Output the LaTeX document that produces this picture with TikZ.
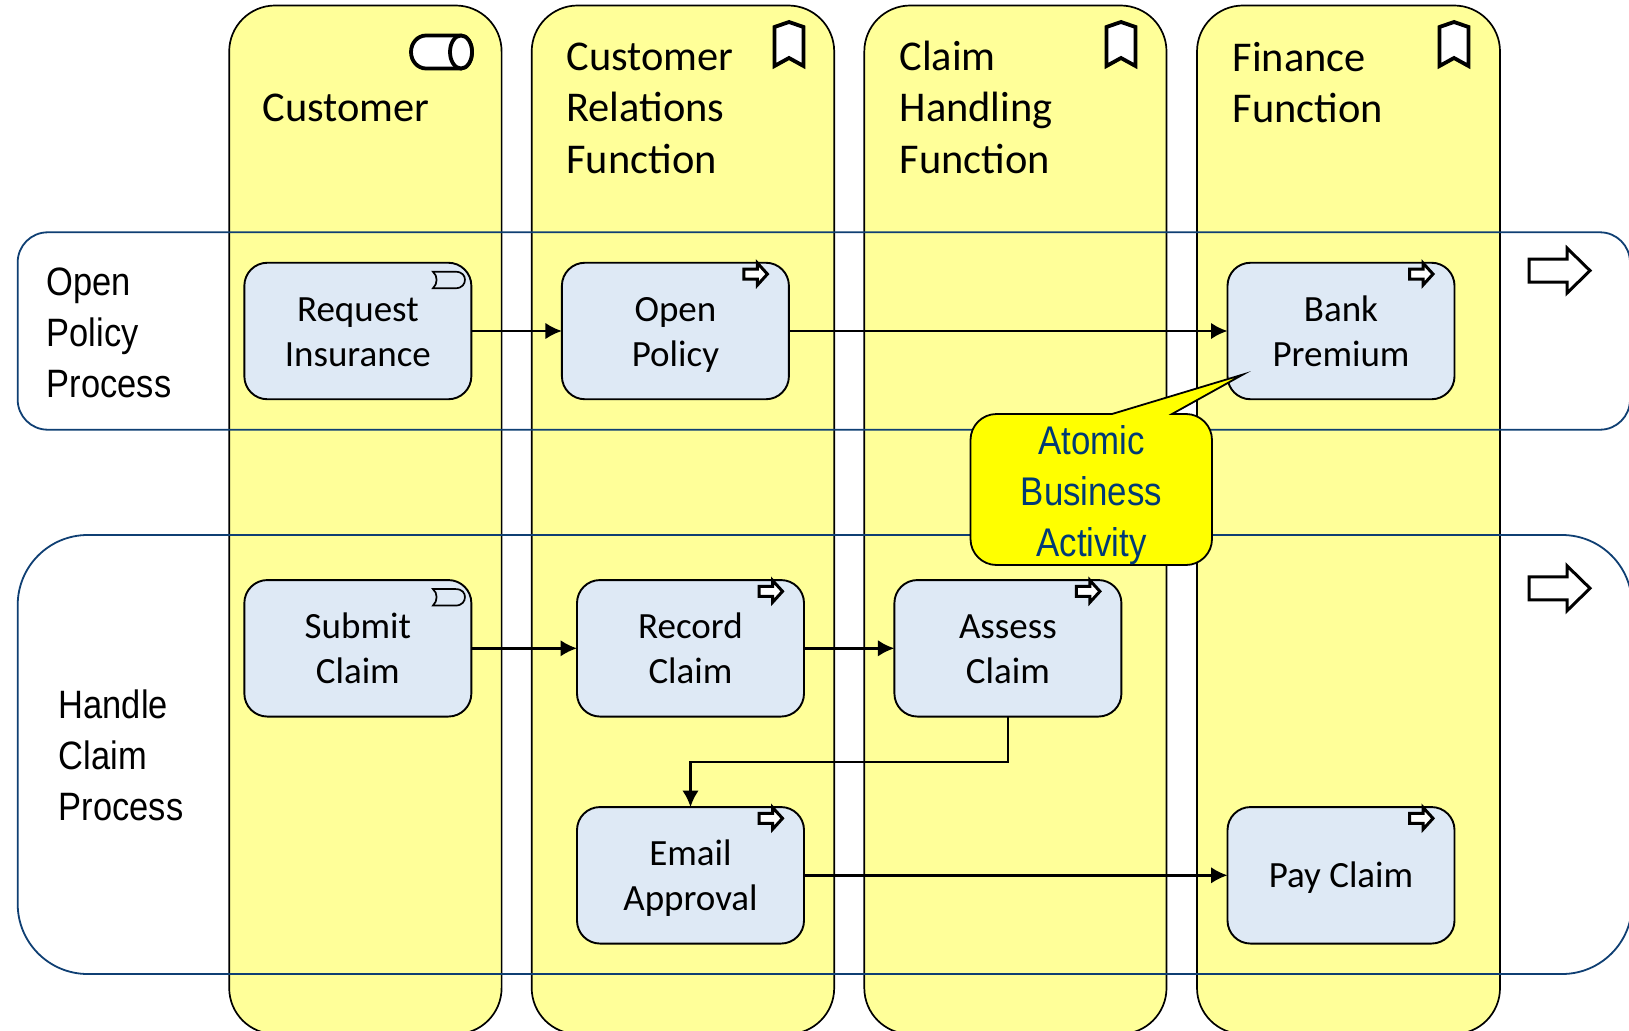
\documentclass[tikz,border=0pt]{standalone}
\usepackage{fontspec}
\setmainfont{Carlito}
\newfontfamily\narrowfont[FakeStretch=0.87]{Liberation Sans}
\usetikzlibrary{arrows.meta}
\definecolor{laneyellow}{HTML}{FFFF99}
\definecolor{actblue}{HTML}{DEE9F5}
\definecolor{rowblue}{HTML}{0F3F73}
\definecolor{calltext}{HTML}{003A75}
\definecolor{callfill}{HTML}{FFFF00}
\newcommand\toprule{\rule{0pt}{36pt}}
\newcommand\acttop{\rule{0pt}{34pt}}
\newcommand\actbot{\rule[-9pt]{0pt}{9pt}}
\tikzset{
  colbox/.style={draw=black,fill=laneyellow,line width=1.7pt,rounded corners=46pt,outer sep=0pt,inner sep=0pt},
  rowbox/.style={draw=rowblue,line width=1.8pt,outer sep=0pt,inner sep=0pt},
  actbox/.style={draw=black,fill=actblue,line width=1.9pt,rounded corners=23pt,minimum width=227pt,minimum height=136.5pt,outer sep=0pt,inner sep=0pt,align=center,font=\fontsize{37}{45}\selectfont},
  headlabel/.style={anchor=north west,inner sep=0pt,outer sep=0pt,align=left,font=\fontsize{42.4}{51.5}\selectfont},
  rowlabel/.style={anchor=north west,inner sep=0pt,outer sep=0pt,align=left,font=\narrowfont\fontsize{39.6}{51}\selectfont},
  flow/.style={draw=black,line width=2.4pt,-{Latex[length=16.5pt,width=16.5pt]}},
  iconline/.style={draw=black,fill=white,line width=3.8pt,line join=miter},
  bookmark/.pic={\path[iconline] (0,0) -- (0,-39) -- (14.5,-44) -- (29,-39) -- (29,0) -- (14.5,-8) -- cycle;},
  procicon/.pic={\path[iconline,line width=3pt] (-45,6.3) -- (-31.5,6.3) -- (-31.5,.3) -- (-21.5,11.3) -- (-31.5,22.3) -- (-31.5,16.3) -- (-45,16.3) -- cycle;},
  scrollicon/.pic={\draw[black,line width=1.7pt] (-38.4,9) -- (-16,9) .. controls (-9,9) and (-6.4,13) .. (-6.4,17) .. controls (-6.4,21) and (-9,25.5) .. (-16,25.5) -- (-38.4,25.5) .. controls (-33.5,21) and (-33.5,13) .. (-38.4,9) -- cycle;},
  bigarrow/.pic={\path[iconline,line width=3pt] (-38,-11.5) -- (0,-11.5) -- (0,-22.5) -- (23,0) -- (0,22.5) -- (0,11.5) -- (-38,11.5) -- cycle;},
}
\begin{document}
\begin{tikzpicture}[x=1pt,y=-1pt]
\useasboundingbox (0,0) rectangle (1629,1030);
\fill[white] (0,0) rectangle (1629,1030);
\clip (0,0) rectangle (1629,1030);
% columns
\node[colbox,minimum width=272.4pt,minimum height=1028.5pt] (colA) at (365.4,519.75) {};
\node[colbox,minimum width=302.5pt,minimum height=1028.5pt] (colB) at (682.95,519.75) {};
\node[colbox,minimum width=302.2pt,minimum height=1028.5pt] (colC) at (1015.4,519.75) {};
\node[colbox,minimum width=303pt,minimum height=1028.5pt] (colD) at (1348.5,519.75) {};
% rows
\node[rowbox,rounded corners=30pt,minimum width=1612.3pt,minimum height=197.4pt] (rowA) at (823.85,331) {};
\node[rowbox,rounded corners=70pt,minimum width=1614.3pt,minimum height=439pt] (rowB) at (824.85,754.5) {};
% column labels
\node[headlabel] (lblA) at (262.5,85.5) {\toprule Customer};
\node[headlabel] (lblB) at (566.5,34.3) {\toprule Customer\\Relations\\Function};
\node[headlabel] (lblC) at (899.6,34.3) {\toprule Claim\\Handling\\Function};
\node[headlabel] (lblD) at (1232.7,35.3) {\toprule Finance\\Function};
% row labels
\node[rowlabel] (lblE) at (46.8,259) {\toprule Open\\Policy\\Process};
\node[rowlabel] (lblF) at (58.8,682) {\toprule Handle\\Claim\\Process};
% header icons
\path[iconline] (426,35.5) -- (461,35.5) arc (-90:90:11 and 16.5) -- (426,68.5) arc (90:270:15 and 16.5) -- cycle;
\path[iconline] (461,35.5) arc (-90:270:11 and 16.5);
\path (774.5,66) pic {bookmark};
\path (1106.5,66) pic {bookmark};
\path (1439.5,66) pic {bookmark};
\path (1567,270.6) pic {bigarrow};
\path (1567,588.3) pic {bigarrow};
% activities
\node[actbox] (request) at (357.85,331) {\acttop Request\\Insurance\actbot};
\node[actbox] (open) at (675.4,331) {\acttop Open\\Policy\actbot};
\node[actbox] (bank) at (1341,331) {\acttop Bank\\Premium\actbot};
\node[actbox] (submit) at (357.85,648.3) {\acttop Submit\\Claim\actbot};
\node[actbox] (record) at (690.5,648.3) {\acttop Record\\Claim\actbot};
\node[actbox] (assess) at (1007.9,648.3) {\acttop Assess\\Claim\actbot};
\node[actbox] (email) at (690.5,875.3) {\acttop Email\\Approval\actbot};
\node[actbox] (pay) at (1341,875.3) {\acttop Pay Claim\actbot};
\path (request.north east) pic {scrollicon};
\path (submit.north east) pic {scrollicon};
\path (open.north east) pic {procicon};
\path (bank.north east) pic {procicon};
\path (record.north east) pic {procicon};
\path (assess.north east) pic {procicon};
\path (email.north east) pic {procicon};
\path (pay.north east) pic {procicon};
% flows
\draw[flow] (request.east) -- (open.west);
\draw[flow] (open.east) -- (bank.west);
\draw[flow] (submit.east) -- (record.west);
\draw[flow] (record.east) -- (assess.west);
\coordinate (elbow) at (0,761.7);
\draw[flow] (assess.south) |- (elbow -| email.north) -- (email.north);
\draw[flow] (email.east) -- (pay.west);
% callout
\path[draw=black,fill=callfill,line width=1.8pt,line join=miter,miter limit=20]
  (1112,414) -- (1243,374.5) -- (1172,414) -- (1186,414) arc (-90:0:26) -- (1212,539) arc (0:90:26) -- (996.5,565) arc (90:180:26) -- (970.5,440) arc (180:270:26) -- cycle;
\node[inner sep=0pt,outer sep=0pt,align=center,text=calltext,font=\narrowfont\fontsize{40}{51}\selectfont,anchor=north] (note) at (1091.5,418) {\toprule Atomic\\Business\\Activity};
\end{tikzpicture}
\end{document}
